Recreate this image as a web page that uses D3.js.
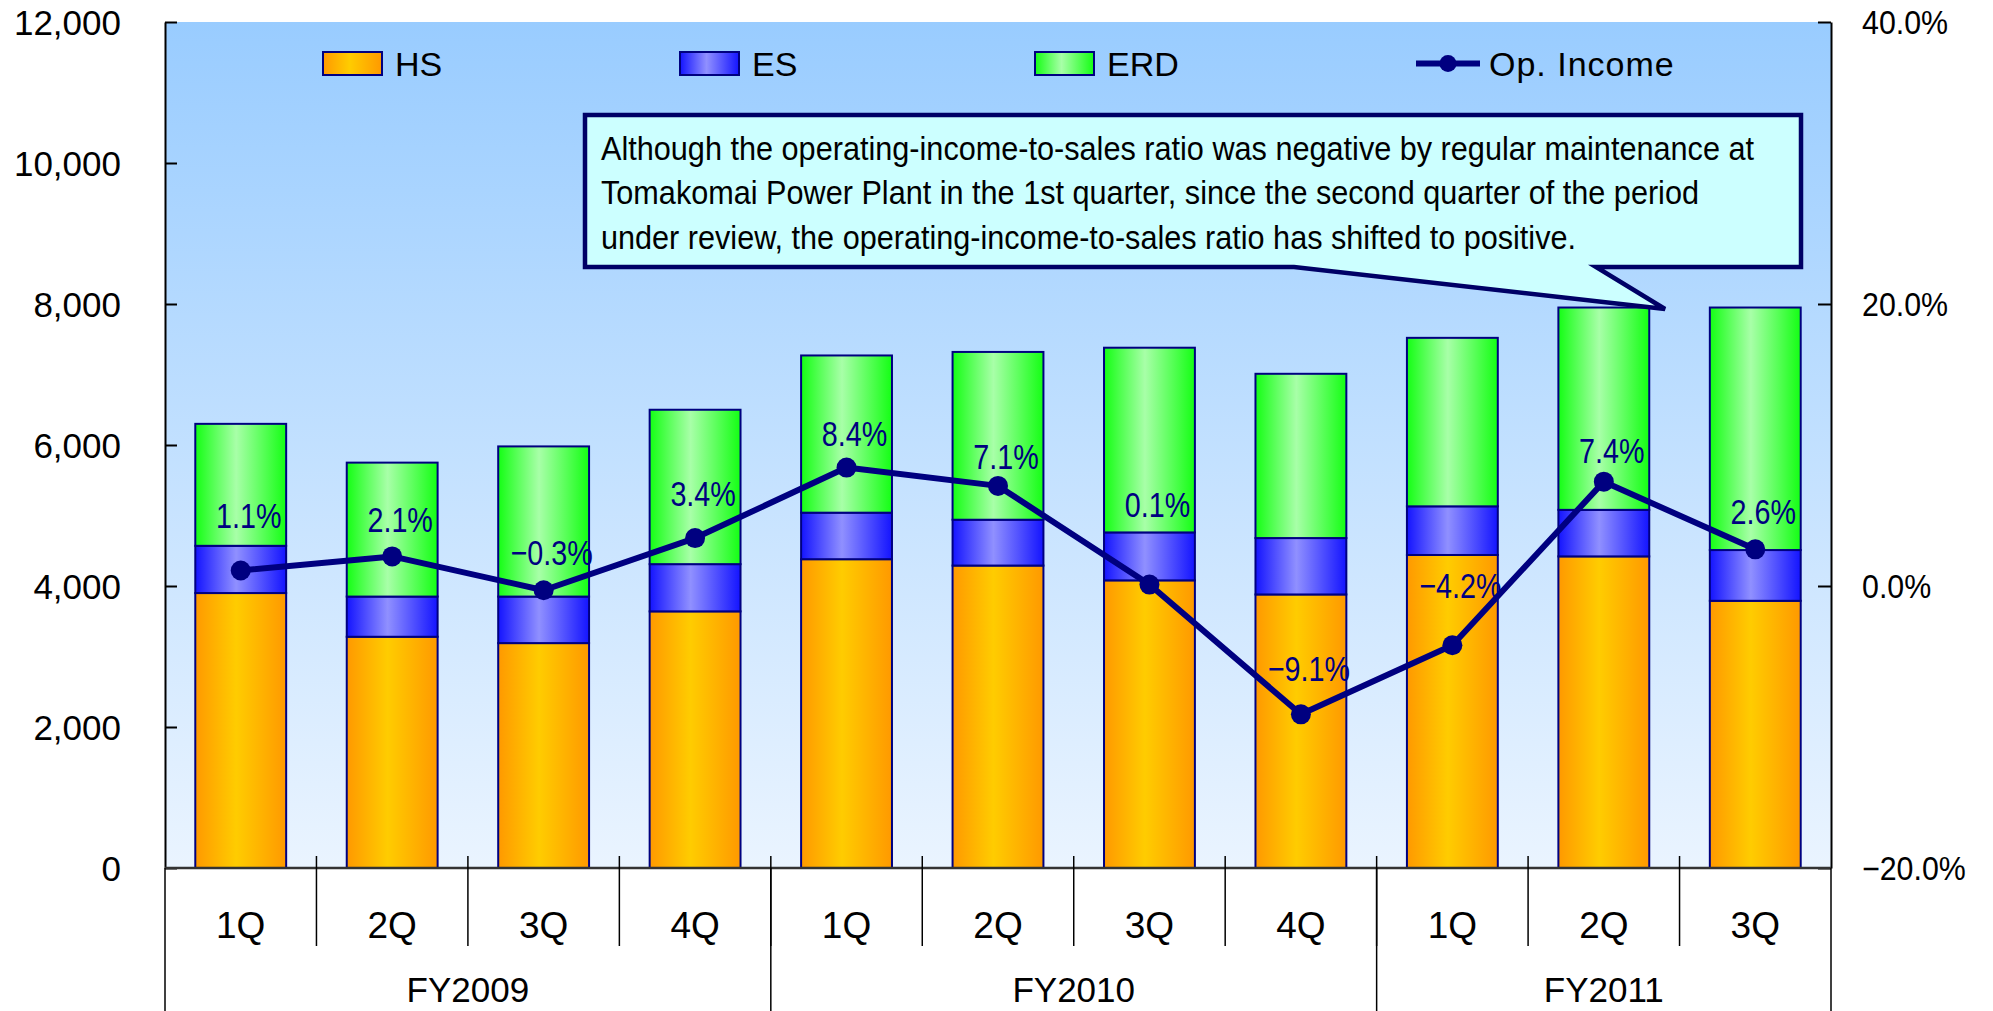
<!DOCTYPE html>
<html>
<head>
<meta charset="utf-8">
<script src="https://cdn.jsdelivr.net/npm/d3@7"></script>
<style>
  html, body { margin: 0; padding: 0; background: #ffffff; }
  svg { display: block; }
  text { font-family: "Liberation Sans", Arial, sans-serif; }
</style>
</head>
<body>
<svg id="chart" width="1993" height="1011"></svg>
<script>
// ---------------- data ----------------
const quarters = ["1Q", "2Q", "3Q", "4Q", "1Q", "2Q", "3Q", "4Q", "1Q", "2Q", "3Q"];
const fiscalYears = ["FY2009", "FY2010", "FY2011"];
const quartersPerYear = [4, 4, 3];
const hsValues  = [3900, 3280, 3190, 3640, 4380, 4290, 4080, 3880, 4440, 4420, 3790];
const esValues  = [670, 570, 660, 670, 660, 650, 680, 800, 690, 660, 720];
const erdValues = [1730, 1900, 2130, 2190, 2230, 2380, 2620, 2330, 2390, 2870, 3440];
const opIncomeRatio = [1.1, 2.1, -0.3, 3.4, 8.4, 7.1, 0.1, -9.1, -4.2, 7.4, 2.6];
const seriesNames = ["HS", "ES", "ERD", "Op. Income"];
const leftTicks = [0, 2000, 4000, 6000, 8000, 10000, 12000];
const rightTicks = [-20, 0, 20, 40];
const noteLines = [
  "Although the operating-income-to-sales ratio was negative by regular maintenance at",
  "Tomakomai Power Plant in the 1st quarter, since the second quarter of the period",
  "under review, the operating-income-to-sales ratio has shifted to positive."
];

// ---------------- layout ----------------
const L = 165, R = 1831, T = 22, B = 868;
const labelNudge = [-42, -24, -25, -32, -22, -17, -68, -33, -47, -19, -25];
const noteWidths = [1153, 1098, 975];
const navy = "#000080";

const svg = d3.select("#chart");
const defs = svg.append("defs");

function hGrad(id, edge, mid) {
  const g = defs.append("linearGradient").attr("id", id)
    .attr("x1", "0%").attr("x2", "100%").attr("y1", "0%").attr("y2", "0%");
  g.append("stop").attr("offset", "0%").attr("stop-color", edge);
  g.append("stop").attr("offset", "45%").attr("stop-color", mid);
  g.append("stop").attr("offset", "100%").attr("stop-color", edge);
}
hGrad("gHS", "#FF9900", "#FFCC00");
hGrad("gES", "#1414FF", "#9090FF");
hGrad("gERD", "#14FF14", "#A8FFA8");

const bg = defs.append("linearGradient").attr("id", "gBG")
  .attr("x1", "0%").attr("x2", "0%").attr("y1", "0%").attr("y2", "100%");
bg.append("stop").attr("offset", "0%").attr("stop-color", "#99CCFF");
bg.append("stop").attr("offset", "100%").attr("stop-color", "#EAF4FF");

// plot background
svg.append("rect").attr("x", L).attr("y", T).attr("width", R - L).attr("height", B - T)
  .attr("fill", "url(#gBG)");

// scales
const x = d3.scaleBand().domain(d3.range(quarters.length)).range([L, R])
  .paddingInner(0.4).paddingOuter(0.2);
const y = d3.scaleLinear().domain([0, 12000]).range([B, T]);
const y2 = d3.scaleLinear().domain([-20, 40]).range([B, T]);

// stacked bars
const rows = quarters.map((q, i) => ({ i, HS: hsValues[i], ES: esValues[i], ERD: erdValues[i] }));
const stack = d3.stack().keys(["HS", "ES", "ERD"])(rows);
const fills = { HS: "url(#gHS)", ES: "url(#gES)", ERD: "url(#gERD)" };
stack.forEach(layer => {
  svg.append("g").selectAll("rect").data(layer).join("rect")
    .attr("x", d => x(d.data.i))
    .attr("width", x.bandwidth())
    .attr("y", d => y(d[1]))
    .attr("height", d => y(d[0]) - y(d[1]))
    .attr("fill", fills[layer.key])
    .attr("stroke", navy).attr("stroke-width", 2);
});

// axes
const leftAxis = svg.append("g").attr("transform", `translate(${L},0)`)
  .call(d3.axisLeft(y).tickValues(leftTicks).tickFormat(d3.format(",")).tickSize(-12).tickSizeOuter(0).tickPadding(44));
const rightAxis = svg.append("g").attr("transform", `translate(${R},0)`)
  .call(d3.axisRight(y2).tickValues(rightTicks).tickFormat(d => d3.format(".1f")(d) + "%").tickSize(-13).tickSizeOuter(0).tickPadding(31));
[leftAxis, rightAxis].forEach(a => {
  a.select(".domain").attr("stroke", "#000").attr("stroke-width", 2);
  a.selectAll(".tick line").attr("stroke", "#000").attr("stroke-width", 2);
  a.selectAll(".tick text").attr("fill", "#000").attr("font-family", "'Liberation Sans', Arial, sans-serif");
});
leftAxis.selectAll(".tick text").attr("font-size", 35).attr("dy", "0.36em");
rightAxis.selectAll(".tick text").attr("font-size", 33).attr("dy", "0.36em")
  .each(function () { const w = this.getComputedTextLength(); d3.select(this).attr("textLength", w * 0.92).attr("lengthAdjust", "spacingAndGlyphs"); });

// baseline
svg.append("line").attr("x1", L).attr("x2", R).attr("y1", B).attr("y2", B)
  .attr("stroke", "#333").attr("stroke-width", 2.5);

// category axis (multi-level)
const step = x.step();
const boundary = i => x(i) - (step - x.bandwidth()) / 2;
const cat = svg.append("g");
d3.range(1, quarters.length).forEach(i => {
  cat.append("line").attr("x1", boundary(i)).attr("x2", boundary(i))
    .attr("y1", B - 12).attr("y2", 946).attr("stroke", "#000").attr("stroke-width", 1.5);
});
cat.selectAll("text.q").data(quarters).join("text").attr("class", "q")
  .attr("x", (d, i) => x(i) + x.bandwidth() / 2).attr("y", 938)
  .attr("text-anchor", "middle").attr("font-size", 37).attr("fill", "#000").text(d => d);
let start = 0;
const groupEdges = [0];
quartersPerYear.forEach(n => { start += n; groupEdges.push(start); });
groupEdges.forEach(k => {
  const gx = k === quarters.length ? R : boundary(k);
  cat.append("line").attr("x1", gx).attr("x2", gx).attr("y1", B).attr("y2", 1011)
    .attr("stroke", "#000").attr("stroke-width", 1.5);
});
fiscalYears.forEach((fy, j) => {
  const a = boundary(groupEdges[j]);
  const b = groupEdges[j + 1] === quarters.length ? R : boundary(groupEdges[j + 1]);
  cat.append("text").attr("x", (a + b) / 2).attr("y", 1002).attr("text-anchor", "middle")
    .attr("font-size", 35).attr("fill", "#000").text(fy);
});

// op income line
const line = d3.line().x((d, i) => x(i) + x.bandwidth() / 2).y(d => y2(d));
svg.append("path").datum(opIncomeRatio).attr("d", line)
  .attr("fill", "none").attr("stroke", navy).attr("stroke-width", 6).attr("stroke-linejoin", "round");
svg.append("g").selectAll("circle").data(opIncomeRatio).join("circle")
  .attr("cx", (d, i) => x(i) + x.bandwidth() / 2).attr("cy", d => y2(d)).attr("r", 10)
  .attr("fill", navy);
svg.append("g").selectAll("text").data(opIncomeRatio).join("text")
  .attr("x", (d, i) => x(i) + x.bandwidth() / 2 + 8)
  .attr("y", (d, i) => y2(d) + labelNudge[i])
  .attr("text-anchor", "middle").attr("font-size", 35).attr("fill", navy)
  .text(d => d3.format(".1f")(d) + "%")
  .each(function () { const w = this.getComputedTextLength(); d3.select(this).attr("textLength", w * 0.82).attr("lengthAdjust", "spacingAndGlyphs"); });

// legend
const legend = svg.append("g");
const swX = [323, 680, 1035];
["gHS", "gES", "gERD"].forEach((g, k) => {
  legend.append("rect").attr("x", swX[k]).attr("y", 52).attr("width", 59).attr("height", 23)
    .attr("fill", `url(#${g})`).attr("stroke", navy).attr("stroke-width", 2);
  legend.append("text").attr("x", swX[k] + 72).attr("y", 76).attr("font-size", 34)
    .attr("fill", "#000").text(seriesNames[k]);
});
legend.append("line").attr("x1", 1416).attr("x2", 1480).attr("y1", 63.5).attr("y2", 63.5)
  .attr("stroke", navy).attr("stroke-width", 6);
legend.append("circle").attr("cx", 1448).attr("cy", 63.5).attr("r", 8.5).attr("fill", navy);
legend.append("text").attr("x", 1489).attr("y", 76).attr("font-size", 34)
  .attr("letter-spacing", 1).attr("fill", "#000").text(seriesNames[3]);

// callout note
const note = svg.append("g");
note.append("path")
  .attr("d", "M585,115 H1801 V267 H1596 L1665,309 L1294,267 H585 Z")
  .attr("fill", "#CCFFFF").attr("stroke", "#000066").attr("stroke-width", 4.5)
  .attr("stroke-linejoin", "miter");
note.selectAll("text").data(noteLines).join("text")
  .attr("x", 601).attr("y", (d, i) => 159.5 + i * 44.8)
  .attr("font-size", 34).attr("fill", "#000")
  .attr("textLength", (d, i) => noteWidths[i]).attr("lengthAdjust", "spacingAndGlyphs")
  .text(d => d);
</script>
</body>
</html>
